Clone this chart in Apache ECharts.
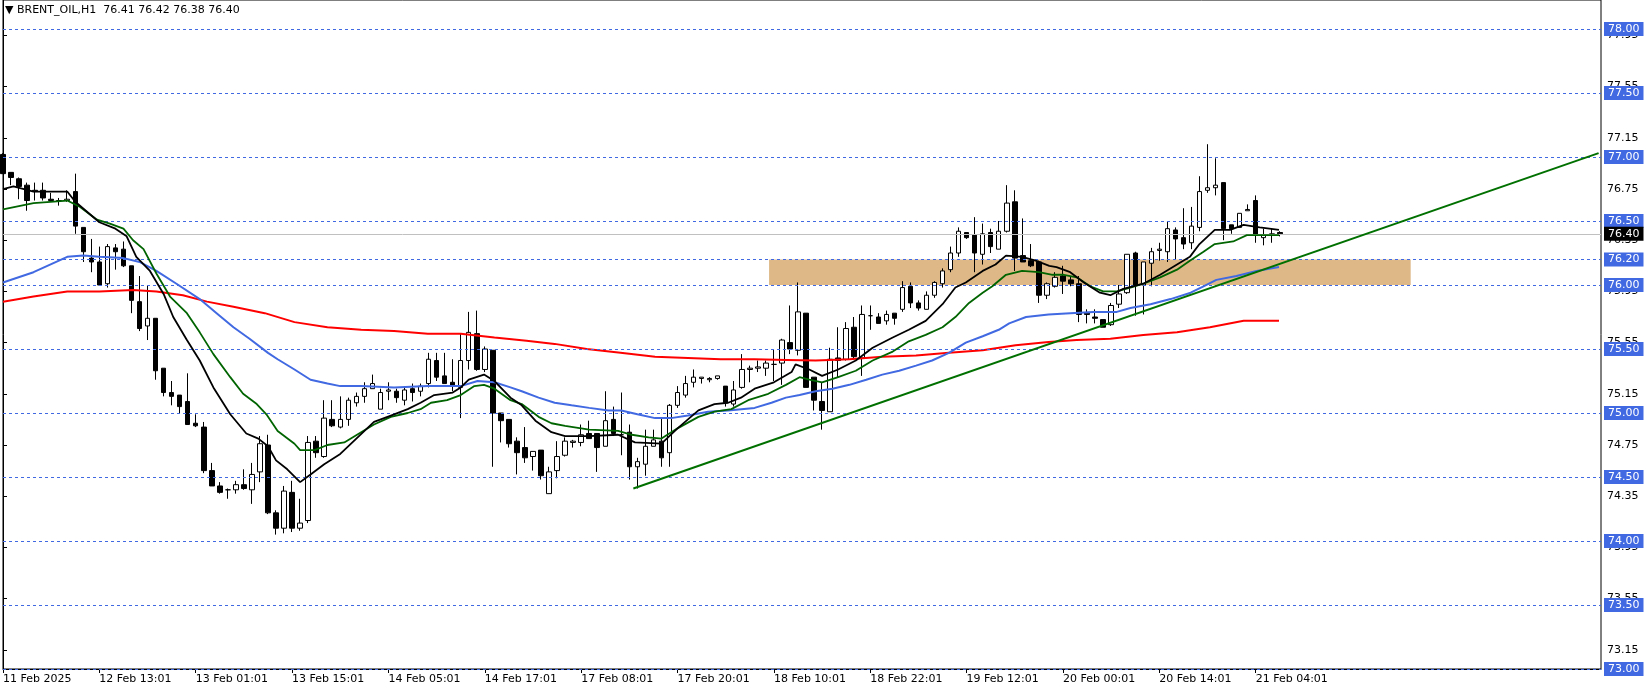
<!DOCTYPE html>
<html><head><meta charset="utf-8">
<script src="https://cdn.jsdelivr.net/npm/echarts@6/dist/echarts.min.js"></script>
<style>html,body{margin:0;padding:0;background:#fff}#c{width:1651px;height:691px}</style>
</head><body><div id="c"></div>
<script>
const tickLabels = ["11 Feb 2025","12 Feb 13:01","13 Feb 01:01","13 Feb 15:01","14 Feb 05:01","14 Feb 17:01","17 Feb 08:01","17 Feb 20:01","18 Feb 10:01","18 Feb 22:01","19 Feb 12:01","20 Feb 00:01","20 Feb 14:01","21 Feb 04:01"];
const opens  = [77.02,76.88,76.83,76.78,76.74,76.74,76.67,76.66,76.66,76.73,76.45,76.21,76.18,76.01,76.29,76.28,76.15,75.87,75.68,75.74,75.35,75.16,75.14,75.09,74.92,74.89,74.55,74.43,74.40,74.40,74.44,74.40,74.54,74.75,74.22,74.10,74.38,74.10,74.16,74.78,74.66,74.95,74.89,74.95,75.08,75.13,75.19,75.03,75.17,75.17,75.10,75.19,75.17,75.23,75.41,75.29,75.24,75.20,75.41,75.62,75.34,75.49,75.00,74.95,74.78,74.73,74.66,74.71,74.37,74.55,74.67,74.77,74.77,74.84,74.84,74.74,74.95,74.83,74.85,74.58,74.60,74.74,74.78,74.69,75.06,75.14,75.24,75.27,75.26,75.27,75.21,75.07,75.20,75.34,75.35,75.35,75.38,75.39,75.55,75.49,75.78,75.28,75.09,75.01,75.43,75.42,75.67,75.43,75.76,75.75,75.72,75.78,75.81,75.99,75.86,75.81,75.92,76.01,76.12,76.25,76.41,76.39,76.24,76.41,76.28,76.42,76.65,76.23,76.19,76.18,75.92,75.99,76.07,76.04,76.01,75.78,75.75,75.73,75.69,75.85,75.94,76.25,76.00,76.17,76.27,76.26,76.43,76.37,76.33,76.45,76.74,76.76,76.80,76.47,76.45,76.58,76.66,76.37,76.39,76.41];
const closes = [76.87,76.84,76.77,76.66,76.73,76.68,76.66,76.66,76.67,76.46,76.26,76.18,76.00,76.30,76.26,76.15,75.88,75.66,75.74,75.33,75.16,75.13,75.05,74.91,74.90,74.55,74.43,74.38,74.40,74.44,74.41,74.52,74.76,74.22,74.10,74.39,74.10,74.14,74.77,74.69,74.96,74.90,74.95,75.10,75.13,75.19,75.23,75.16,75.18,75.12,75.18,75.16,75.21,75.42,75.28,75.23,75.21,75.41,75.63,75.34,75.50,75.00,74.94,74.76,74.69,74.65,74.70,74.51,74.54,74.66,74.78,74.78,74.83,74.80,74.73,74.94,74.84,74.83,74.58,74.62,74.74,74.79,74.65,75.06,75.16,75.23,75.28,75.28,75.27,75.29,75.08,75.18,75.34,75.35,75.36,75.39,75.38,75.57,75.50,75.79,75.20,75.10,75.02,75.42,75.41,75.66,75.44,75.77,75.76,75.70,75.77,75.74,75.98,75.86,75.82,75.92,76.02,76.11,76.25,76.42,76.37,76.25,76.40,76.30,76.42,76.64,76.21,76.18,76.15,75.92,76.01,76.06,76.03,76.01,75.77,75.77,75.74,75.67,75.84,75.93,76.24,76.00,76.18,76.26,76.28,76.44,76.36,76.32,76.46,76.73,76.76,76.78,76.44,76.44,76.56,76.59,76.39,76.39,76.40,76.40];
const highs  = [77.03,76.88,76.84,76.80,76.80,76.80,76.72,76.68,76.74,76.87,76.45,76.36,76.30,76.32,76.32,76.34,76.15,76.07,76.00,75.74,75.35,75.25,75.14,75.31,74.99,74.93,74.61,74.46,74.41,74.47,74.56,74.61,74.82,74.83,74.24,74.43,74.47,74.33,74.82,74.82,75.10,75.10,75.13,75.12,75.16,75.24,75.30,75.19,75.24,75.19,75.20,75.23,75.23,75.47,75.47,75.47,75.42,75.62,75.79,75.80,75.52,75.49,75.00,74.95,74.81,74.89,74.70,74.71,74.58,74.78,74.81,74.79,74.91,74.94,74.84,75.17,75.05,75.16,74.91,74.65,74.87,74.87,74.96,75.07,75.21,75.29,75.34,75.28,75.28,75.29,75.21,75.25,75.46,75.37,75.41,75.41,75.50,75.58,75.84,76.02,75.78,75.28,75.24,75.51,75.67,75.71,75.75,75.84,75.84,75.78,75.80,75.78,76.03,76.02,75.88,75.95,76.03,76.13,76.30,76.45,76.41,76.53,76.48,76.44,76.50,76.78,76.74,76.52,76.32,76.19,76.02,76.10,76.15,76.07,76.07,75.81,75.81,75.73,75.86,76.00,76.24,76.26,76.18,76.29,76.33,76.50,76.45,76.60,76.61,76.85,77.10,76.99,76.80,76.47,76.56,76.63,76.70,76.44,76.44,76.42];
const lows   = [76.87,76.78,76.67,76.58,76.66,76.66,76.66,76.62,76.65,76.40,76.18,76.10,76.00,75.98,76.12,76.14,75.78,75.64,75.57,75.26,75.13,75.06,75.00,74.91,74.89,74.53,74.43,74.37,74.33,74.37,74.40,74.29,74.46,74.21,74.05,74.06,74.07,74.08,74.14,74.65,74.65,74.89,74.88,74.90,75.05,75.08,75.19,75.03,75.10,75.08,75.06,75.09,75.13,75.20,75.25,75.23,75.17,74.96,75.34,75.33,75.32,74.58,74.77,74.73,74.52,74.61,74.55,74.48,74.37,74.49,74.66,74.73,74.74,74.80,74.54,74.74,74.82,74.67,74.48,74.41,74.51,74.74,74.58,74.58,75.04,75.12,75.20,75.23,75.24,75.26,75.05,75.05,75.19,75.24,75.32,75.29,75.25,75.22,75.46,75.45,75.20,75.02,74.87,75.01,75.28,75.41,75.42,75.29,75.65,75.70,75.69,75.69,75.79,75.82,75.80,75.81,75.90,75.98,76.10,76.22,76.36,76.10,76.16,76.25,76.28,76.41,76.11,76.18,76.14,75.86,75.89,75.98,75.93,75.99,75.71,75.70,75.70,75.67,75.68,75.82,75.93,75.76,75.77,75.99,76.19,76.18,76.20,76.28,76.28,76.42,76.72,76.70,76.35,76.40,76.45,76.58,76.33,76.31,76.33,76.38];
const maBlack = [[0,76.75],[1.3,76.77],[3.8,76.73],[8,76.73],[9,76.65],[12,76.49],[14,76.44],[15.4,76.38],[16.6,76.22],[18.3,76.11],[20,75.93],[21.2,75.75],[22.9,75.57],[24.5,75.41],[26.2,75.20],[28.3,74.99],[30.3,74.84],[31.8,74.80],[33,74.74],[34,74.63],[35.4,74.56],[37,74.46],[38.3,74.52],[40,74.60],[42,74.68],[44,74.80],[46.2,74.93],[48.3,74.98],[50.4,75.03],[52,75.08],[53.7,75.14],[56,75.16],[57,75.20],[58,75.26],[59.9,75.30],[61.2,75.25],[63.2,75.12],[64.6,75.06],[66.3,74.94],[68.3,74.85],[70,74.82],[73,74.82],[76.6,74.83],[78.7,74.77],[82,74.76],[84,74.88],[86.6,75.02],[88.6,75.07],[90.3,75.08],[91.9,75.12],[93.6,75.19],[96,75.24],[98.2,75.32],[98.7,75.38],[100.4,75.34],[102,75.29],[104,75.34],[106.2,75.41],[108.3,75.51],[110.8,75.59],[112.8,75.65],[114.9,75.72],[117,75.85],[118.6,75.98],[119.9,76.02],[122,76.11],[123.6,76.16],[124.9,76.23],[126.9,76.22],[128.6,76.19],[130.3,76.15],[131.2,76.14],[132.9,76.10],[134.6,76.02],[136.6,75.94],[137.9,75.92],[139.5,75.97],[142,76.01],[144.1,76.08],[146.2,76.16],[147.8,76.22],[149,76.32],[150.9,76.43],[152.8,76.43],[154.5,76.47],[156.5,76.45],[158.9,76.43]];
const maGreen = [[0,76.59],[3.8,76.64],[8,76.66],[9.6,76.61],[11.7,76.51],[13.3,76.48],[15,76.44],[16.2,76.35],[17.5,76.28],[19.1,76.09],[20.8,75.91],[22.9,75.78],[24.5,75.63],[26.2,75.46],[28.3,75.28],[29.9,75.15],[31.6,75.07],[32.8,74.99],[34.2,74.86],[36.3,74.76],[37,74.71],[38.8,74.71],[40.4,74.75],[42.5,74.77],[44.6,74.85],[46.2,74.91],[48.3,74.97],[50.4,75.00],[52,75.03],[53.3,75.08],[55.3,75.10],[57,75.14],[58.7,75.21],[59.9,75.22],[61.2,75.19],[63.2,75.10],[64.6,75.07],[66.7,74.97],[68.3,74.92],[70,74.90],[73,74.87],[76.6,74.86],[78.3,74.83],[80.4,74.81],[82,74.80],[84,74.88],[86.6,74.97],[88.6,75.01],[90.7,75.03],[92.8,75.10],[95.3,75.15],[97.5,75.22],[99.2,75.28],[100.4,75.26],[102,75.24],[104,75.28],[106.2,75.33],[108.3,75.41],[110.8,75.48],[112.8,75.56],[114.9,75.61],[117,75.67],[118.6,75.75],[120.3,75.86],[122,75.94],[123.2,75.99],[124.9,76.08],[126.9,76.11],[129,76.10],[130.7,76.08],[132.1,76.08],[133.7,76.06],[135.4,75.99],[137,75.95],[138.7,75.95],[140.4,75.98],[142,76.01],[144.1,76.06],[146.2,76.12],[147.8,76.19],[149.5,76.26],[150.9,76.32],[153.2,76.34],[154.9,76.39],[156.5,76.39],[158.9,76.39]];
const maBlue = [[0,76.02],[3.8,76.10],[8,76.22],[10,76.23],[12,76.22],[15,76.21],[17,76.18],[19.1,76.11],[21.6,76.01],[24.5,75.89],[26.6,75.78],[28.7,75.67],[30.7,75.58],[33,75.47],[34.2,75.42],[36.3,75.34],[38.3,75.26],[40.4,75.23],[42,75.21],[44.6,75.21],[48.7,75.20],[52.9,75.21],[57,75.21],[59.1,75.25],[61.2,75.24],[63.2,75.20],[64.6,75.17],[66.7,75.12],[68.7,75.08],[70.8,75.06],[73,75.04],[75.4,75.02],[77,75.02],[79,74.99],[81.2,74.96],[83.2,74.96],[85.3,74.98],[87.8,75.01],[90.3,75.02],[93.6,75.04],[95.7,75.08],[97.5,75.12],[99.2,75.14],[101.2,75.17],[103.3,75.19],[105.4,75.22],[107.5,75.26],[109.5,75.30],[111.6,75.33],[113.7,75.37],[115.7,75.41],[117.8,75.47],[119.9,75.55],[122,75.60],[124,75.65],[125.3,75.70],[127.4,75.75],[130.2,75.77],[132.9,75.78],[135.8,75.79],[138.7,75.79],[140.4,75.82],[142.9,75.85],[145.4,75.89],[147.9,75.94],[149.5,75.99],[151.1,76.04],[153.6,76.07],[156.1,76.11],[158.9,76.14]];
const maRed = [[0,75.87],[3.8,75.91],[8,75.95],[12,75.95],[16.2,75.96],[19.1,75.95],[22.4,75.92],[25.4,75.87],[28.7,75.83],[32.6,75.78],[36.3,75.71],[40.4,75.67],[44.6,75.65],[48.7,75.64],[52.9,75.62],[57,75.62],[61.2,75.59],[65.2,75.565],[68.7,75.54],[72.7,75.50],[76.9,75.47],[81.2,75.44],[85.3,75.43],[89.4,75.42],[93.6,75.42],[97.6,75.415],[101.2,75.41],[105.4,75.42],[109.5,75.44],[113.7,75.45],[117.8,75.47],[122,75.49],[126.1,75.53],[130.2,75.555],[133.7,75.57],[137.9,75.58],[142,75.61],[146.2,75.63],[150.3,75.67],[154.5,75.72],[158.9,75.72]];
const trendLine = [[78.5,74.41],[198.7,77.03]];
const zone = {x0:95.4, x1:175.3, top:76.2, bottom:76.0};
const levels = [78.00,77.50,77.00,76.50,76.20,76.00,75.50,75.00,74.50,74.00,73.50,73.00];
const lastPrice = 76.40;
const axisValues = [73.15,73.55,73.95,74.35,74.75,75.15,75.55,75.95,76.35,76.75,77.15,77.55,77.95];

const N = 200;
const cats = Array.from({length:N},(_,i)=>String(i));
const candles = opens.map((o,i)=>[o,closes[i],lows[i],highs[i]]);
const FONT = 'DejaVu Sans';
const blue = '#4169E1';

const chart = echarts.init(document.getElementById('c'));
chart.setOption({
  animation:false,
  grid:{left:2,right:50,top:0,bottom:22,show:true,borderColor:'#000',borderWidth:1},
  xAxis:[{
    type:'category',data:cats,boundaryGap:false,
    axisLine:{lineStyle:{color:'#000'}},
    axisTick:{interval:(i)=>i%12===0 && i/12<tickLabels.length,length:4,lineStyle:{color:'#000'}},
    axisLabel:{interval:(i)=>i%12===0 && i/12<tickLabels.length,formatter:(v,i)=>tickLabels[i/12]||'',align:'left',margin:5,color:'#000',fontFamily:FONT,fontSize:11},
    splitLine:{show:false}
  },{type:'value',min:0,max:N-1,show:false}],
  yAxis:{
    type:'value',min:73.0,max:78.2266,position:'right',
    axisLine:{show:true,lineStyle:{color:'#000'}},
    axisTick:{show:true,customValues:axisValues,length:4,lineStyle:{color:'#000'}},
    axisLabel:{customValues:axisValues,formatter:v=>v.toFixed(2),color:'#000',fontFamily:FONT,fontSize:11,margin:6},
    splitLine:{show:false}
  },
  graphic:[{type:'text',left:5,top:5,style:{text:'▼ BRENT_OIL,H1  76.41 76.42 76.38 76.40',fill:'#000',font:'11px "DejaVu Sans"'}}],
  series:[
    {type:'line',xAxisIndex:1,data:[],z:1,
      markArea:{silent:true,itemStyle:{color:'#DEB887'},data:[[{coord:[zone.x0,zone.top]},{coord:[zone.x1,zone.bottom]}]]},
      markLine:{silent:true,symbol:'none',animation:false,
        data:levels.map(v=>({yAxis:v,lineStyle:{color:blue,type:[3,3],width:1},
          label:{show:true,position:'end',formatter:v.toFixed(2),color:'#fff',backgroundColor:blue,padding:[2,4,1,4],fontFamily:FONT,fontSize:11,distance:3}}))
          .concat([{yAxis:lastPrice,lineStyle:{color:'#c0c0c0',type:'solid',width:1},
          label:{show:true,position:'end',formatter:lastPrice.toFixed(2),color:'#fff',backgroundColor:'#000',padding:[2,4,1,4],fontFamily:FONT,fontSize:11,distance:3}}])}},
    {type:'candlestick',data:candles,barWidth:5,clip:false,z:3,
      itemStyle:{color:'#fff',color0:'#000',borderColor:'#000',borderColor0:'#000',borderWidth:1}},
    {type:'line',xAxisIndex:1,data:maRed,symbol:'none',lineStyle:{color:'#ff0000',width:2},z:4},
    {type:'line',xAxisIndex:1,data:maBlue,symbol:'none',lineStyle:{color:blue,width:2},z:4},
    {type:'line',xAxisIndex:1,data:maGreen,symbol:'none',lineStyle:{color:'#006400',width:1.8},z:5},
    {type:'line',xAxisIndex:1,data:maBlack,symbol:'none',lineStyle:{color:'#000',width:1.8},z:5},
    {type:'line',xAxisIndex:1,data:trendLine,symbol:'none',lineStyle:{color:'#007000',width:2},z:5}
  ]
});
</script></body></html>
